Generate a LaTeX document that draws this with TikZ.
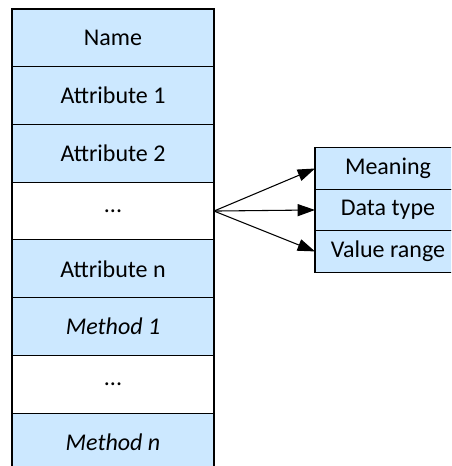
\documentclass[tikz,border=0pt]{standalone}
\usepackage{fontspec}
\setmainfont{Carlito}
\usetikzlibrary{positioning}
\usetikzlibrary{arrows.meta}
\definecolor{cellblue}{RGB}{204,232,255}

\begin{document}
\begin{tikzpicture}[
			x=0.75pt, y=-0.75pt,
			every node/.style={
					draw,
					line width=0.8pt,
					outer sep=0pt,
					inner sep=0pt,
					font=\fontsize{18}{21}\selectfont
				},
			member/.style={fill=cellblue, minimum width=151.5pt, minimum height=43.3pt},
			blank/.style={member, fill=white},
			detail/.style={fill=cellblue, minimum width=109.5pt, minimum height=31.1pt}
		]
		\useasboundingbox (0,0) rectangle (451,466);
		\clip (0,0) rectangle (451,466);

		% class box
		\node[member] (name) at (113,37.85) {Name};
		\node[member, below=0pt of name] (attr1) {Attribute 1};
		\node[member, below=0pt of attr1] (attr2) {Attribute 2};
		\node[blank, below=0pt of attr2] (adots) {...};
		\node[member, below=0pt of adots] (attrn) {Attribute n};
		\node[member, below=0pt of attrn] (meth1) {\itshape Method 1};
		\node[blank, below=0pt of meth1] (mdots) {...};
		\node[member, below=0pt of mdots] (methn) {\itshape Method n};

		% attribute details
		\node[detail] (meaning) at (388,168.5) {Meaning};
		\node[detail, below=0pt of meaning] (dtype) {Data type};
		\node[detail, below=0pt of dtype] (vrange) {Value range};

		\draw[-{Triangle[length=13pt, width=9pt]}, line width=0.8pt] (adots.east) -- (meaning.west);
		\draw[-{Triangle[length=13pt, width=9pt]}, line width=0.8pt] (adots.east) -- (dtype.west);
		\draw[-{Triangle[length=13pt, width=9pt]}, line width=0.8pt] (adots.east) -- (vrange.west);

	\end{tikzpicture}
\end{document}
